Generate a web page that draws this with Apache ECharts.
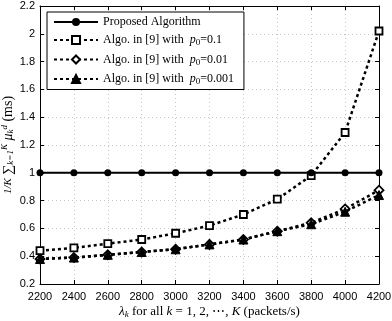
<!DOCTYPE html>
<html>
<head>
<meta charset="utf-8">
<script src="https://cdn.jsdelivr.net/npm/echarts@6/dist/echarts.min.js"></script>
<style>
  html, body { margin: 0; padding: 0; background: #fff; }
  #main { width: 392px; height: 321px; }
</style>
</head>
<body>
<div id="main"></div>
<script>
// 横轴 lambda_k
var rates = [2200, 2400, 2600, 2800, 3000, 3200, 3400, 3600, 3800, 4000, 4200];
// 各算法延迟 (ms)
var proposed = [1, 1, 1, 1, 1, 1, 1, 1, 1, 1, 1];
var algoP01 = [0.44, 0.46, 0.49, 0.52, 0.565, 0.62, 0.70, 0.81, 0.98, 1.29, 2.02];
var algoP001 = [0.38, 0.39, 0.41, 0.43, 0.45, 0.485, 0.52, 0.58, 0.64, 0.74, 0.875];
var algoP0001 = [0.38, 0.39, 0.41, 0.43, 0.45, 0.485, 0.52, 0.58, 0.63, 0.72, 0.84];

var serif = '"Liberation Serif", "DejaVu Serif", serif';
var sans = '"Liberation Sans", Arial, sans-serif';

function pairs(arr) {
  return rates.map(function (x, i) { return [x, arr[i]]; });
}

var chart = echarts.init(document.getElementById('main'), null, { renderer: 'canvas' });

var dotted = { color: '#000', width: 2.5, type: [3, 3] };

var axisCommon = {
  axisLine: { lineStyle: { color: '#000', width: 1 } },
  axisTick: { inside: true, length: 4, lineStyle: { color: '#000' } },
  splitLine: { show: true, lineStyle: { color: '#c4c4c4', type: [1, 3] } }
};

chart.setOption({
  animation: false,
  backgroundColor: '#fff',
  grid: { left: 40, right: 13, top: 6, bottom: 37, show: false, containLabel: false, outerBoundsMode: 'none' },
  legend: {
    orient: 'vertical',
    left: 47,
    top: 12,
    backgroundColor: '#fff',
    borderColor: '#000',
    borderWidth: 1,
    borderRadius: 0,
    padding: [4, 10, 3, 6],
    itemGap: 6,
    itemWidth: 44,
    itemHeight: 10,
    textStyle: {
      fontFamily: serif, fontSize: 12, color: '#000',
      rich: {
        i: { fontFamily: serif, fontStyle: 'italic', fontSize: 12, color: '#000' },
        s: { fontFamily: serif, fontSize: 9, color: '#000', padding: [6, 0, 0, 0] }
      }
    },
    formatter: function (name) {
      if (name === 'Proposed Algorithm') return name;
      var p = name.split('=')[1];
      return 'Algo. in [9] with  {i|p}{s|0}=' + p;
    },
    data: ['Proposed Algorithm', 'p0=0.1', 'p0=0.01', 'p0=0.001']
  },
  xAxis: [Object.assign({
    type: 'value',
    min: 2200, max: 4200, interval: 200,
    name: '{i|λ}{s|k} for all {i|k} = 1, 2, ⋯, {i|K} (packets/s)',
    nameLocation: 'middle',
    nameGap: 21,
    nameMoveOverlap: false,
    nameTextStyle: {
      fontFamily: serif, fontSize: 13, color: '#000',
      rich: {
        i: { fontFamily: serif, fontStyle: 'italic', fontSize: 13, color: '#000' },
        s: { fontFamily: serif, fontStyle: 'italic', fontSize: 9, color: '#000', padding: [5, 0, 0, 0] }
      }
    },
    axisLabel: {
      fontFamily: sans, fontSize: 11, color: '#000', margin: 7,
      formatter: function (v) { return String(v); }
    }
  }, axisCommon), {
    type: 'value', position: 'top', min: 2200, max: 4200, interval: 200,
    axisLine: { lineStyle: { color: '#000' } },
    axisTick: { inside: true, length: 4, lineStyle: { color: '#000' } },
    axisLabel: { show: false }, splitLine: { show: false }
  }],
  yAxis: [Object.assign({
    type: 'value',
    min: 0.2, max: 2.2, interval: 0.2,
    name: '{f|1/K} ∑{s|k=1}{u|K} {i|μ}{s|k}{u|d} (ms)',
    nameLocation: 'middle',
    nameGap: 24,
    nameMoveOverlap: false,
    nameTextStyle: {
      fontFamily: serif, fontSize: 14, color: '#000',
      rich: {
        f: { fontFamily: serif, fontStyle: 'italic', fontSize: 11, color: '#000' },
        i: { fontFamily: serif, fontStyle: 'italic', fontSize: 14, color: '#000' },
        s: { fontFamily: serif, fontStyle: 'italic', fontSize: 9, color: '#000', padding: [6, 0, 0, 0] },
        u: { fontFamily: serif, fontStyle: 'italic', fontSize: 9, color: '#000', padding: [0, 0, 7, 0] }
      }
    },
    axisLabel: {
      fontFamily: sans, fontSize: 11, color: '#000', margin: 5,
      formatter: function (v) { return String(Math.round(v * 10) / 10); }
    }
  }, axisCommon), {
    type: 'value', position: 'right', min: 0.2, max: 2.2, interval: 0.2,
    axisLine: { show: true, lineStyle: { color: '#000' } },
    axisTick: { show: true, inside: true, length: 4, lineStyle: { color: '#000' } },
    axisLabel: { show: false }, splitLine: { show: false }
  }],
  series: [
    {
      name: 'Proposed Algorithm', type: 'line', data: pairs(proposed),
      symbol: 'circle', symbolSize: 7,
      lineStyle: { color: '#000', width: 2 },
      itemStyle: { color: '#000' }, z: 5
    },
    {
      name: 'p0=0.1', type: 'line', data: pairs(algoP01),
      symbol: 'rect', symbolSize: 7,
      lineStyle: dotted,
      itemStyle: { color: '#fff', borderColor: '#000', borderWidth: 1.8 }, z: 4
    },
    {
      name: 'p0=0.01', type: 'line', data: pairs(algoP001),
      symbol: 'diamond', symbolSize: 9,
      lineStyle: dotted,
      itemStyle: { color: '#fff', borderColor: '#000', borderWidth: 1.8 }, z: 3
    },
    {
      name: 'p0=0.001', type: 'line', data: pairs(algoP0001),
      symbol: 'triangle', symbolSize: 9,
      lineStyle: dotted,
      itemStyle: { color: '#000', borderColor: '#000', borderWidth: 1 }, z: 4
    }
  ]
});
</script>
</body>
</html>
